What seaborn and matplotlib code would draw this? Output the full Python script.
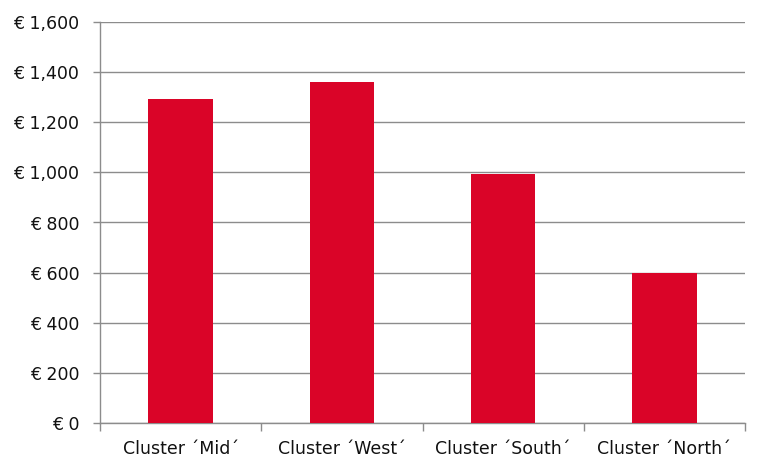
import matplotlib
matplotlib.use("Agg")
import matplotlib.pyplot as plt
import seaborn as sns
import pandas as pd
import numpy as np
from matplotlib.ticker import FuncFormatter, FixedLocator

categories = ["Cluster \u00b4Mid\u00b4", "Cluster \u00b4West\u00b4", "Cluster \u00b4South\u00b4", "Cluster \u00b4North\u00b4"]
values = [1292, 1360, 995, 598]

df = pd.DataFrame({"cluster": categories, "value": values})

sns.set_style("white")
plt.rcParams["font.family"] = ["DejaVu Sans"]

fig = plt.figure(figsize=(7.67, 4.73), dpi=100)
ax = fig.add_axes([100/767, 50/473, 645/767, 401/473])

sns.barplot(data=df, x="cluster", y="value", color="#DA0428", width=0.4,
            saturation=1, linewidth=0, ax=ax, zorder=3)

ax.set_ylim(0, 1600)
ax.set_xlim(-0.5, 3.5)
ax.set_yticks(np.arange(0, 1601, 200))
ax.yaxis.set_major_formatter(FuncFormatter(lambda v, p: f"\u20ac {int(v):,}"))
ax.grid(axis="y", color="#8c8c8c", linewidth=1, zorder=0)
ax.set_axisbelow(True)

for s in ["top", "right"]:
    ax.spines[s].set_visible(False)
for s in ["left", "bottom"]:
    ax.spines[s].set_color("#8c8c8c")
    ax.spines[s].set_linewidth(1)

ax.tick_params(axis="y", which="major", length=5, width=1, color="#8c8c8c",
               labelsize=12.5, pad=10, left=True, labelcolor="#111111")
ax.tick_params(axis="x", which="major", length=0, labelsize=12.5, pad=12, labelcolor="#111111")
ax.xaxis.set_minor_locator(FixedLocator([-0.5, 0.5, 1.5, 2.5, 3.5]))
ax.tick_params(axis="x", which="minor", length=6, width=1, color="#8c8c8c", bottom=True)

ax.set_xlabel("")
ax.set_ylabel("")

fig.savefig("out.png", dpi=100)
